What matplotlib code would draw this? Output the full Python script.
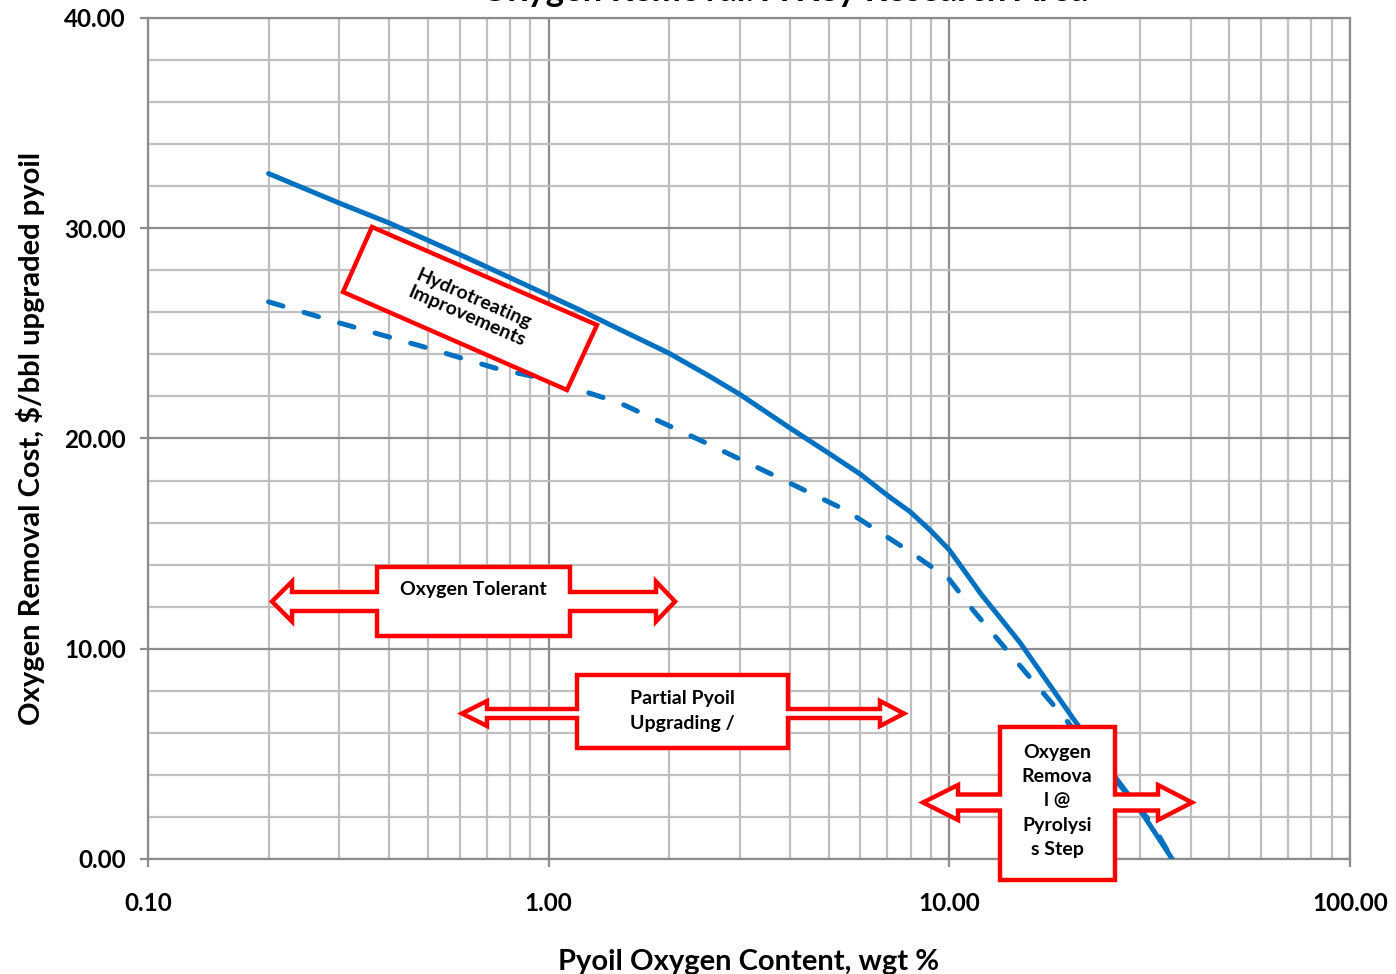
import matplotlib
matplotlib.use('Agg')
import matplotlib.pyplot as plt
import matplotlib.transforms as mtransforms
from matplotlib.patches import Polygon
from matplotlib.ticker import LogLocator, MultipleLocator, NullFormatter

plt.rcParams['font.family'] = ['Lato', 'DejaVu Sans']
plt.rcParams['font.weight'] = 'bold'
plt.rcParams['axes.labelweight'] = 'bold'

# current technology curve (solid)
oxygen_current = [0.2, 0.3, 0.4, 0.6, 1.0, 1.2, 1.5, 2.0, 2.5, 3.0, 4.0, 5.0, 6.0, 7.0, 8.0,
                  9.0, 10.0, 12.0, 15.0, 20.0, 25.0, 30.0, 36.0]
cost_current = [32.6, 31.2, 30.25, 28.75, 26.8, 26.1, 25.2, 24.05, 23.0, 22.1, 20.5, 19.3,
                18.3, 17.3, 16.5, 15.6, 14.7, 12.6, 10.3, 6.9, 4.3, 2.3, 0.0]

# improved hydrotreating curve (dashed)
oxygen_improved = [0.2, 0.3, 0.5, 0.75, 1.0, 1.2, 1.5, 2.0, 2.4, 3.6, 5.5, 8.0, 10.0,
                   11.5, 15.0, 19.0, 25.6, 32.0, 36.0]
cost_improved = [26.5, 25.5, 24.3, 23.3, 22.8, 22.3, 21.7, 20.6, 19.9, 18.3, 16.6, 14.6, 13.3,
                 11.8, 9.2, 6.9, 3.9, 1.7, 0.0]

x_ticks = [0.1, 1.0, 10.0, 100.0]
y_ticks = [0, 10, 20, 30, 40]

title = 'Oxygen Removal: A Key Research Area'
x_label = 'Pyoil Oxygen Content, wgt %'
y_label = 'Oxygen Removal Cost, $/bbl upgraded pyoil'

BLUE = '#0070C0'
RED = '#FF0000'
W, H = 1396, 974

fig = plt.figure(figsize=(W / 100, H / 100), dpi=100)
ax = fig.add_axes([148 / W, 1 - 859 / H, 1202 / W, 841 / H])

# reference pixel coords -> figure
ref = mtransforms.Affine2D().scale(1 / W, -1 / H).translate(0, 1) + fig.transFigure

ax.plot(oxygen_current, cost_current, color=BLUE, lw=3.6, solid_capstyle='round',
        solid_joinstyle='round', zorder=3)
ax.plot(oxygen_improved, cost_improved, color=BLUE, lw=3.6, dashes=(3.0, 4.4),
        dash_capstyle='round', zorder=3)

ax.set_xscale('log')
ax.set_xlim(0.1, 100)
ax.set_ylim(0, 40)
ax.set_xticks(x_ticks, labels=[f'{v:.2f}' for v in x_ticks], fontsize=17.5, fontweight='bold')
ax.set_yticks(y_ticks, labels=[f'{v:.2f}' for v in y_ticks], fontsize=17.5, fontweight='bold')
ax.xaxis.set_minor_locator(LogLocator(base=10, subs=range(2, 10), numticks=20))
ax.xaxis.set_minor_formatter(NullFormatter())
ax.yaxis.set_minor_locator(MultipleLocator(2))

ax.grid(which='minor', color='#BFBFBF', lw=1.6, zorder=0)
ax.grid(which='major', color='#8C8C8C', lw=1.6, zorder=0)
ax.set_axisbelow(True)
for s in ax.spines.values():
    s.set_color('#8C8C8C')
    s.set_linewidth(1.6)
ax.tick_params(which='major', direction='out', length=6, width=1.6, color='#8C8C8C')
ax.tick_params(axis='x', which='major', pad=18)
ax.tick_params(axis='y', which='major', pad=10)
ax.tick_params(which='minor', length=0)

ax.set_xlabel(x_label, fontsize=21, fontweight='bold', labelpad=24)
ax.set_ylabel(y_label, fontsize=21, fontweight='bold', labelpad=14)
fig.text(785 / W, 1 - 1 / H, title, ha='center', va='baseline', fontsize=25, fontweight='bold')


def lr_callout(x0, x1, y0, y1, cy, shaft, head, tip_l, base_l, base_r, tip_r):
    pts = [(x0, y0), (x1, y0), (x1, cy - shaft), (base_r, cy - shaft), (base_r, cy - head),
           (tip_r, cy), (base_r, cy + head), (base_r, cy + shaft), (x1, cy + shaft),
           (x1, y1), (x0, y1), (x0, cy + shaft), (base_l, cy + shaft), (base_l, cy + head),
           (tip_l, cy), (base_l, cy - head), (base_l, cy - shaft), (x0, cy - shaft)]
    ax.add_patch(Polygon(pts, closed=True, transform=ref, facecolor='white', edgecolor=RED,
                         lw=3.2, joinstyle='miter', clip_on=False, zorder=5))


lr_callout(377, 570, 567, 636, 601.5, 9.5, 20, 272, 292, 656, 675)
ax.text(473, 590, 'Oxygen Tolerant', transform=ref, ha='center', va='center', fontsize=14,
        fontweight='bold', zorder=6)

lr_callout(577, 788, 675, 748, 713.5, 4.5, 12.5, 462, 487, 880, 904)
ax.text(682, 711, 'Partial Pyoil\nUpgrading /', transform=ref, ha='center', va='center',
        fontsize=14, fontweight='bold', linespacing=1.52, zorder=6)

lr_callout(1000, 1115, 727, 880, 802.5, 8, 17.5, 923, 958, 1158, 1192)
ax.text(1057, 801, 'Oxygen\nRemova\nl @\nPyrolysi\ns Step', transform=ref, ha='center',
        va='center', fontsize=14, fontweight='bold', linespacing=1.52, zorder=6)

hydro = [(372, 227), (597, 325), (567, 390), (343, 292)]
ax.add_patch(Polygon(hydro, closed=True, transform=ref, facecolor='white', edgecolor=RED,
                     lw=3.2, joinstyle='miter', clip_on=False, zorder=5))
ax.text(470, 308, 'Hydrotreating\nImprovements', transform=ref, ha='center', va='center',
        rotation=-23.5, rotation_mode='anchor', fontsize=14, fontweight='bold',
        linespacing=1.15, zorder=6)

fig.savefig('out.png', dpi=100)
